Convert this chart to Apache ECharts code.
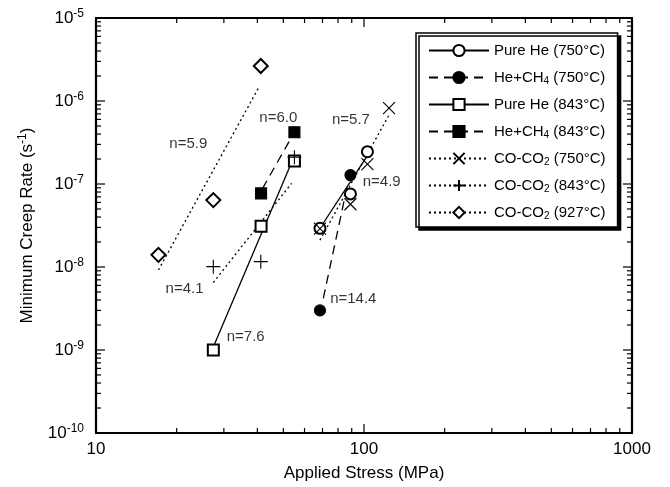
<!DOCTYPE html>
<html><head><meta charset="utf-8">
<script src="https://cdn.jsdelivr.net/npm/echarts@6/dist/echarts.min.js"></script>
<style>html,body{margin:0;padding:0;background:#fff}#c{width:670px;height:487px}</style>
</head><body><div id="c"></div>
<script>
// ---------- data ----------
const xRange = [10, 1000];
const yRange = [1e-10, 1e-5];
const minorMultipliers = [2, 3, 4, 5, 6, 7, 8, 9];
const xDecades = [10, 100, 1000];
const yDecades = [1e-10, 1e-9, 1e-8, 1e-7, 1e-6, 1e-5];

const seriesNames = ['Pure He (750°C)', 'He+CH4 (750°C)', 'Pure He (843°C)', 'He+CH4 (843°C)',
  'CO-CO2 (750°C)', 'CO-CO2 (843°C)', 'CO-CO2 (927°C)'];

// measured points [stress MPa, creep rate 1/s]
const pureHe750 = [[68.5, 2.92e-8], [89, 7.6e-8], [103, 2.45e-7]];
const heCH4_750 = [[68.5, 3.0e-9], [89, 1.28e-7]];
const pureHe843 = [[27.4, 1.0e-9], [41.3, 3.1e-8], [55, 1.89e-7]];
const heCH4_843 = [[41.3, 7.7e-8], [55, 4.2e-7]];
const coco2_750 = [[68.5, 2.9e-8], [89, 5.7e-8], [103, 1.74e-7], [124, 8.2e-7]];
const coco2_843 = [[27.4, 1.01e-8], [41.2, 1.16e-8], [55, 2.1e-7]];
const coco2_927 = [[17.1, 1.4e-8], [27.4, 6.4e-8], [41.2, 2.64e-6]];

// power-law fit lines (end points)
const fitPureHe750 = [[66.6, 2.55e-8], [104, 2.3e-7]];
const fitHeCH4_750 = [[70.5, 4.2e-9], [88, 1.2e-7]];
const fitPureHe843 = [[27.5, 1.12e-9], [54.8, 2.13e-7]];
const fitHeCH4_843 = [[41.8, 8.8e-8], [54.5, 4.0e-7]];
const fitCOCO2_750 = [[68.5, 2.11e-8], [124, 6.8e-7]];
const fitCOCO2_843 = [[27.4, 6.5e-9], [53.7, 1.02e-7]];
const fitCOCO2_927 = [[17.1, 9.2e-9], [40.3, 1.42e-6]];

// stress exponent annotations
const slopeLabels = ['n=5.9', 'n=6.0', 'n=5.7', 'n=4.9', 'n=4.1', 'n=7.6', 'n=14.4'];
const slopeLabelAt = [[22.1, 3.03e-7], [47.9, 6.3e-7], [89.4, 6.0e-7], [116.4, 1.07e-7],
  [21.4, 5.4e-9], [36.2, 1.45e-9], [91.2, 4.1e-9]];

// ---------- chart ----------
const FONT = 'Liberation Sans, Arial, Helvetica, sans-serif';
const pointSets = [pureHe750, heCH4_750, pureHe843, heCH4_843, coco2_750, coco2_843, coco2_927];
const fitSets = [fitPureHe750, fitHeCH4_750, fitPureHe843, fitHeCH4_843, fitCOCO2_750, fitCOCO2_843, fitCOCO2_927];
const SYM_X = 'path://M0,0L10,10M10,0L0,10';
const SYM_P = 'path://M5,0L5,10M0,5L10,5';
const styles = [
  {symbol: 'emptyCircle', size: 11, dash: 'solid'},
  {symbol: 'circle', size: 11, dash: [9, 6]},
  {symbol: 'emptyRect', size: 11, dash: 'solid'},
  {symbol: 'rect', size: 11, dash: [9, 6]},
  {symbol: SYM_X, size: 12, dash: [2, 3]},
  {symbol: SYM_P, size: 14, dash: [2, 3]},
  {symbol: 'emptyDiamond', size: 14, dash: [2, 3]}
];

const series = [];
seriesNames.forEach((name, i) => {
  const st = styles[i];
  series.push({
    type: 'line', name: name, data: fitSets[i],
    showSymbol: false, symbol: st.symbol, symbolSize: st.size,
    itemStyle: {color: '#000', borderColor: '#000', borderWidth: 1.1},
    lineStyle: {color: '#000', width: 1.3, type: st.dash},
    z: 2
  });
  series.push({
    type: 'scatter', name: 'pts' + i, data: pointSets[i],
    symbol: st.symbol, symbolSize: st.size,
    itemStyle: {color: '#000', borderColor: '#000', borderWidth: 1.1, opacity: 1},
    z: 3
  });
});

series.push({
  type: 'scatter', name: 'labels', symbolSize: 0,
  data: slopeLabels.map((t, i) => ({name: t, value: slopeLabelAt[i]})),
  label: {show: true, position: 'inside', formatter: '{b}', fontSize: 15, color: '#000', fontFamily: FONT}
});

// tick positions on all four frame sides (log decades and their 2..9 multiples)
const xMinorVals = [], yMinorVals = [];
xDecades.slice(0, -1).forEach(d => minorMultipliers.forEach(m => xMinorVals.push(d * m)));
yDecades.slice(0, -1).forEach(d => minorMultipliers.forEach(m => yMinorVals.push(d * m)));

function tickSeries(name, data, size, offset) {
  return {type: 'scatter', name: name, data: data, clip: false, symbol: 'rect',
    symbolSize: size, symbolOffset: offset, z: 6,
    itemStyle: {color: '#000', borderWidth: 0, opacity: 1}};
}
function addTicks(vals, len) {
  const h = len / 2;
  series.push(tickSeries('tb', vals.x.map(v => [v, yRange[0]]), [1.2, len], [0, -h]));
  series.push(tickSeries('tt', vals.x.map(v => [v, yRange[1]]), [1.2, len], [0, h]));
  series.push(tickSeries('tl', vals.y.map(v => [xRange[0], v]), [len, 1.2], [h, 0]));
  series.push(tickSeries('tr', vals.y.map(v => [xRange[1], v]), [len, 1.2], [-h, 0]));
}
addTicks({x: xMinorVals, y: yMinorVals}, 5);
addTicks({x: xDecades, y: yDecades}, 9);

function mkLine() { return {show: true, onZero: false, lineStyle: {color: '#000', width: 2.2}}; }

const option = {
  animation: false,
  backgroundColor: '#fff',
  grid: {left: 96, right: 38, top: 18, bottom: 54},
  xAxis: [
    {type: 'log', min: xRange[0], max: xRange[1], position: 'bottom',
      axisLine: mkLine(), axisTick: {show: false}, splitLine: {show: false},
      axisLabel: {fontSize: 17, color: '#000', margin: 8, fontFamily: FONT, formatter: v => String(Math.round(v))},
      name: 'Applied Stress (MPa)', nameLocation: 'middle', nameGap: 32,
      nameTextStyle: {fontSize: 17, color: '#000', fontFamily: FONT}},
    {type: 'log', min: xRange[0], max: xRange[1], position: 'top',
      axisLine: mkLine(), axisTick: {show: false}, splitLine: {show: false}, axisLabel: {show: false}}
  ],
  yAxis: [
    {type: 'log', min: yRange[0], max: yRange[1], position: 'left',
      axisLine: mkLine(), axisTick: {show: false}, splitLine: {show: false},
      axisLabel: {color: '#000', margin: 12, fontFamily: FONT,
        formatter: v => '{b|10}{s|' + Math.round(Math.log10(v)) + '}',
        rich: {b: {fontSize: 17, lineHeight: 20, color: '#000', fontFamily: FONT},
               s: {fontSize: 12, lineHeight: 12, verticalAlign: 'top', color: '#000', fontFamily: FONT}}},
      name: 'Minimum Creep Rate (s{s|-1})', nameLocation: 'middle', nameGap: 58,
      nameTextStyle: {fontSize: 17, lineHeight: 20, color: '#000', fontFamily: FONT,
        rich: {s: {fontSize: 12, lineHeight: 12, verticalAlign: 'top', color: '#000', fontFamily: FONT}}}},
    {type: 'log', min: yRange[0], max: yRange[1], position: 'right',
      axisLine: mkLine(), axisTick: {show: false}, splitLine: {show: false}, axisLabel: {show: false}}
  ],
  legend: {
    orient: 'vertical', left: 416, top: 33,
    data: seriesNames, selectedMode: false,
    itemWidth: 60, itemHeight: 14, itemGap: 10,
    padding: [9, 12, 6, 12],
    backgroundColor: '#fff', borderColor: '#000', borderWidth: 1.5, borderRadius: 0,
    shadowColor: '#000', shadowBlur: 0, shadowOffsetX: 3, shadowOffsetY: 3,
    formatter: n => n.replace('CH4', 'CH{sub|4}').replace('CO2', 'CO{sub|2}'),
    textStyle: {fontSize: 15, lineHeight: 17, color: '#000', fontFamily: FONT,
      rich: {sub: {fontSize: 10, lineHeight: 8, verticalAlign: 'bottom', color: '#000', fontFamily: FONT}}}
  },
  series: series
};
const chart = echarts.init(document.getElementById('c'));
chart.setOption(option);
</script></body></html>
